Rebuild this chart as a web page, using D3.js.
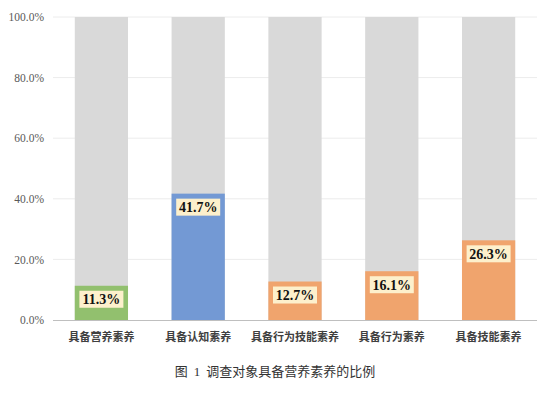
<!DOCTYPE html>
<html><head><meta charset="utf-8">
<script src="https://cdn.jsdelivr.net/npm/d3@7"></script>
<style>body{margin:0;background:#fff}svg{display:block}</style>
</head><body>
<svg id="c" width="554" height="393"></svg>
<script>
const categories = ["具备营养素养","具备认知素养","具备行为技能素养","具备行为素养","具备技能素养"];
const values = [11.3, 41.7, 12.7, 16.1, 26.3];
const colors = ["#92c06e","#7399d4","#f0a46d","#f0a46d","#f0a46d"];
const yTicks = [0,20,40,60,80,100];
const title = ["图","1","调查对象具备营养素养的比例"];

const svg = d3.select("#c");
const m = {l:53, r:17, t:17, b:73};
const W = 554, H = 393;
const x = d3.scaleBand().domain(categories).range([m.l, W-m.r]).paddingInner(0.45).paddingOuter(0.225);
const y = d3.scaleLinear().domain([0,100]).range([H-m.b, m.t]);
const serif = "'Liberation Serif','Times New Roman',serif";

// grid
svg.append("g").selectAll("line").data(yTicks.slice(1)).join("line")
  .attr("x1", m.l).attr("x2", W-m.r).attr("y1", d=>y(d)).attr("y2", d=>y(d))
  .attr("stroke","#ececec").attr("stroke-width",1);

// background bars
svg.append("g").selectAll("rect").data(categories).join("rect")
  .attr("x", d=>x(d)).attr("width", x.bandwidth())
  .attr("y", y(100)).attr("height", y(0)-y(100)).attr("fill","#d9d9d9");

// value bars
svg.append("g").selectAll("rect").data(values).join("rect")
  .attr("x", (d,i)=>x(categories[i])).attr("width", x.bandwidth())
  .attr("y", d=>y(d)).attr("height", d=>y(0)-y(d)).attr("fill",(d,i)=>colors[i]);

// axis line
svg.append("line").attr("x1", m.l).attr("x2", W-m.r).attr("y1", y(0)+0.5).attr("y2", y(0)+0.5)
  .attr("stroke","#bfbfbf");

// y tick labels
const yAxis = d3.axisLeft(y).tickValues(yTicks).tickFormat(d=>d.toFixed(1)+"%").tickSize(0).tickPadding(9);
const ya = svg.append("g").attr("transform",`translate(${m.l},0)`).call(yAxis);
ya.attr("font-family", serif);
ya.select(".domain").remove();
ya.selectAll("text").style("font-family", serif).attr("font-size", 11.5).attr("fill","#595959");

// x labels
const xAxis = d3.axisBottom(x).tickSize(0).tickPadding(13);
const xa = svg.append("g").attr("transform",`translate(0,${y(0)})`).call(xAxis);
xa.select(".domain").remove();
xa.selectAll("text").style("font-family","'Noto Sans CJK SC',sans-serif").attr("font-size",11)
  .attr("font-weight","bold").attr("fill","#404040");

// value labels
const lg = svg.append("g").selectAll("g").data(values).join("g")
  .attr("transform",(d,i)=>`translate(${x(categories[i])+x.bandwidth()/2},${y(d)+13.5})`);
lg.append("rect").attr("x",-22).attr("y",-8.5).attr("width",44).attr("height",17).attr("fill","#fdf0cc");
lg.append("text").text(d=>d.toFixed(1)+"%").attr("text-anchor","middle").attr("dy","0.35em")
  .style("font-family",serif).attr("font-weight","bold").attr("font-size",14).attr("fill","#111");

// title
const t = svg.append("text").attr("x",275).attr("y",376).attr("text-anchor","middle")
  .style("font-family","'Noto Sans CJK SC',sans-serif").attr("font-size",13).attr("fill","#333");
t.append("tspan").text(title[0]);
t.append("tspan").attr("dx",6).style("font-family",serif).text(title[1]);
t.append("tspan").attr("dx",6).text(title[2]);
</script>
</body></html>
